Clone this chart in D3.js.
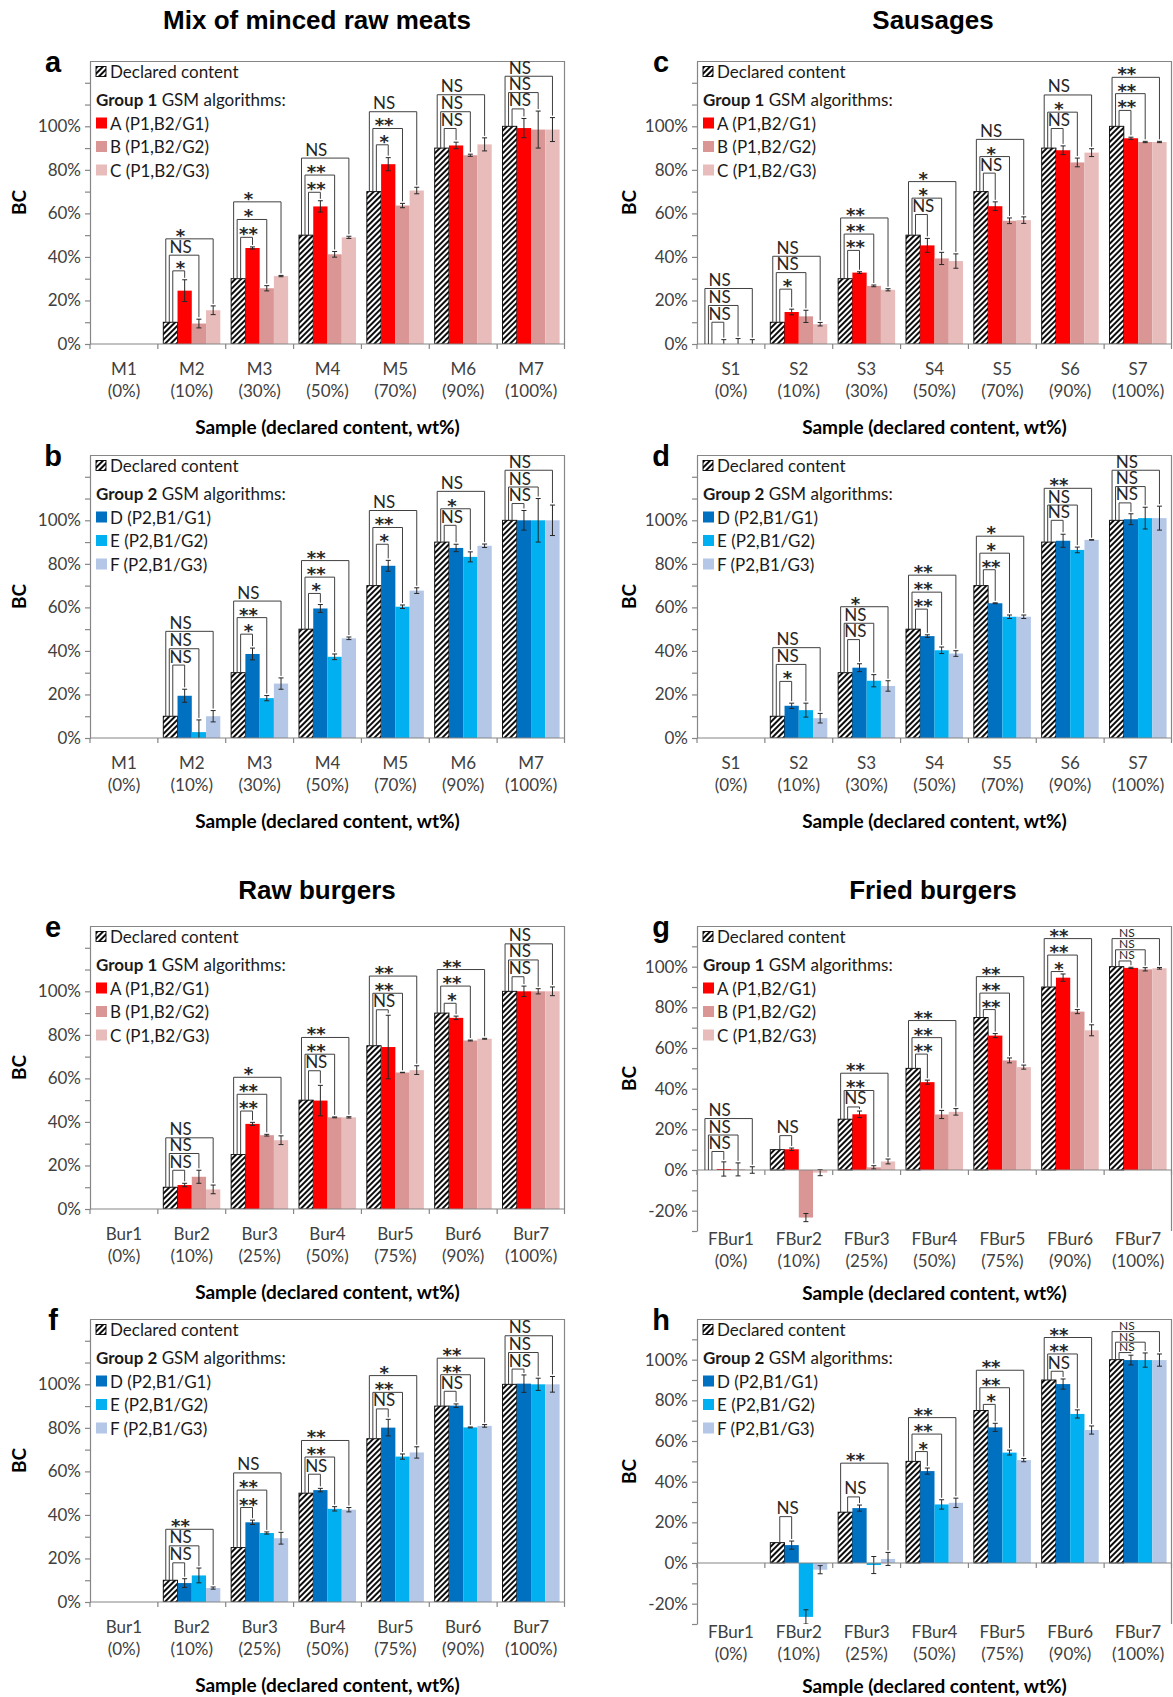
<!DOCTYPE html>
<html>
<head>
<meta charset="utf-8">
<script src="https://cdn.jsdelivr.net/npm/d3@7"></script>
<style>
  body { margin: 0; background: #fff; }
  svg { display: block; }
  text { font-family: Lato, "Open Sans", sans-serif; }
</style>
</head>
<body>
<svg id="chart" width="1173" height="1697"></svg>
<script>
// ---- categories ----
const meatCats = ["M1", "M2", "M3", "M4", "M5", "M6", "M7"];
const meatPct  = ["0%", "10%", "30%", "50%", "70%", "90%", "100%"];
const sausCats = ["S1", "S2", "S3", "S4", "S5", "S6", "S7"];
const sausPct  = ["0%", "10%", "30%", "50%", "70%", "90%", "100%"];
const burCats  = ["Bur1", "Bur2", "Bur3", "Bur4", "Bur5", "Bur6", "Bur7"];
const fburCats = ["FBur1", "FBur2", "FBur3", "FBur4", "FBur5", "FBur6", "FBur7"];
const burPct   = ["0%", "10%", "25%", "50%", "75%", "90%", "100%"];

const group1Keys = ["A (P1,B2/G1)", "B (P1,B2/G2)", "C (P1,B2/G3)"];
const group2Keys = ["D (P2,B1/G1)", "E (P2,B1/G2)", "F (P2,B1/G3)"];

// ---- declared content ----
const declMeat = [null, 10, 30, 50, 70, 90, 100];
const declSaus = [0, 10, 30, 50, 70, 90, 100];
const declSaus2 = [null, 10, 30, 50, 70, 90, 100];
const declBur  = [null, 10, 25, 50, 75, 90, 100];
const declFBur = [0, 10, 25, 50, 75, 90, 100];

// ---- a: minced meats, group 1 ----
const aA  = [null, 24.5, 44.1, 63.2, 82.6, 91.2, 99.2];
const aAe = [null, 5, 0.5, 2.6, 3, 1.5, 4.4];
const aB  = [null, 9.4, 25.6, 41.2, 63.6, 86.7, 98.5];
const aBe = [null, 2, 1.2, 1.3, 1, 0.5, 8.5];
const aC  = [null, 15.5, 31.2, 49, 70.5, 91.7, 98.5];
const aCe = [null, 2, 0.3, 0.5, 1.5, 3, 5.5];
const aSig = [null, ["*", "NS", "*"], ["**", "*", "*"], ["**", "**", "NS"], ["*", "**", "NS"], ["NS", "NS", "NS"], ["NS", "NS", "NS"]];
const aLev = [null, [33.6, 40.8, 48.3], [49, 57.2, 65.3], [69.7, 77.6, 85.4], [91.5, 99, 106.7], [99, 106.7, 114.5], [108, 115.5, 123]];

// ---- b: minced meats, group 2 ----
const bD  = [null, 19.4, 38.6, 59.5, 79.1, 87.3, 100];
const bDe = [null, 3, 2.7, 1.8, 2.5, 1.7, 4.5];
const bE  = [null, 2.7, 18.3, 37.3, 60.3, 83.2, 100];
const bEe = [null, 5.6, 1.2, 1.3, 0.8, 2.3, 10];
const bF  = [null, 10, 25, 45.8, 67.7, 88.3, 100];
const bFe = [null, 2.6, 2.6, 0.6, 1.3, 0.8, 7];
const bSig = [null, ["NS", "NS", "NS"], ["*", "**", "NS"], ["*", "**", "**"], ["*", "**", "NS"], ["NS", "*", "NS"], ["NS", "NS", "NS"]];
const bLev = [null, [33.5, 41, 49], [47.7, 55.3, 62.9], [66.4, 73.9, 81.5], [89, 96.7, 104.5], [97.7, 105.3, 113.3], [107.7, 115.3, 123]];

// ---- c: sausages, group 1 ----
const cA  = [0, 14.7, 32.8, 45.3, 63.3, 89, 94.5];
const cAe = [2, 1.3, 0.4, 3.2, 2, 2, 0.5];
const cB  = [0, 12.7, 26.7, 39.3, 56.6, 83.4, 92.8];
const cBe = [2.5, 2.8, 0.4, 2.8, 1.3, 2, 0.3];
const cC  = [0, 9.1, 24.9, 38.1, 56.9, 87.9, 92.8];
const cCe = [2, 0.8, 0.5, 3.3, 1.5, 1.8, 0.3];
const cSig = [["NS", "NS", "NS"], ["*", "NS", "NS"], ["**", "**", "**"], ["NS", "*", "*"], ["NS", "*", "NS"], ["NS", "*", "NS"], ["**", "**", "**"]];
const cLev = [[10, 17.7, 25.5], [25.2, 32.8, 40.3], [43, 50.5, 57.9], [59.5, 67, 74.6], [78.5, 86.1, 94], [99, 106.5, 114.4], [107.3, 115, 122.5]];

// ---- d: sausages, group 2 ----
const dD  = [null, 14.8, 32.3, 46.8, 61.9, 90.6, 100.5];
const dDe = [null, 1.2, 1.8, 0.6, 0.2, 3, 2.5];
const dE  = [null, 12.8, 26.3, 40.3, 55.7, 86.4, 101];
const dEe = [null, 3.2, 2.8, 1.5, 0.8, 1.3, 5];
const dF  = [null, 9.1, 23.9, 38.8, 55.7, 91, 101];
const dFe = [null, 2.2, 2.4, 1.3, 0.8, 0.1, 5.5];
const dSig = [null, ["*", "NS", "NS"], ["NS", "NS", "*"], ["**", "**", "**"], ["**", "*", "*"], ["NS", "NS", "**"], ["NS", "NS", "NS"]];
const dLev = [null, [26, 33.8, 41.5], [45.2, 52.7, 60.3], [59.2, 67, 74.8], [77.3, 84.9, 92.7], [100, 107, 114.7], [108, 115.5, 123]];

// ---- e: raw burgers, group 1 ----
const eA  = [null, 11, 39.1, 49.8, 74.4, 87.8, 100];
const eAe = [null, 0.8, 0.7, 7, 14.6, 0.8, 2.4];
const eB  = [null, 14.8, 33.9, 42.1, 62.7, 77.4, 100];
const eBe = [null, 3, 0.4, 0.2, 0.1, 0.2, 1.2];
const eC  = [null, 9, 31.6, 42.1, 63.8, 78.2, 100];
const eCe = [null, 2, 2, 0.3, 2, 0.2, 2];
const eSig = [null, ["NS", "NS", "NS"], ["**", "**", "*"], ["NS", "**", "**"], ["NS", "**", "**"], ["*", "**", "**"], ["NS", "NS", "NS"]];
const eLev = [null, [17.8, 25.5, 32.7], [45, 52.7, 60.5], [63.5, 71.1, 78.8], [91.5, 99.1, 107], [94.5, 102.4, 110], [106.7, 114.4, 121.8]];

// ---- f: raw burgers, group 2 ----
const fD  = [null, 8.7, 36.6, 51.4, 80.1, 90.2, 100.3];
const fDe = [null, 2, 1, 0.8, 3.8, 0.8, 4];
const fE  = [null, 12.2, 31.7, 42.8, 66.8, 80.2, 100];
const fEe = [null, 3.4, 0.5, 1, 1.2, 0.2, 2.8];
const fF  = [null, 6.4, 29.3, 42.4, 68.7, 80.9, 100];
const fFe = [null, 0.5, 2.7, 1, 2.6, 0.6, 3.6];
const fSig = [null, ["NS", "NS", "**"], ["**", "**", "NS"], ["NS", "**", "**"], ["NS", "**", "*"], ["NS", "**", "**"], ["NS", "NS", "NS"]];
const fLev = [null, [18, 25.8, 33.4], [43.4, 51.4, 59.3], [58.7, 66.6, 74.2], [88.7, 96.3, 104], [96.8, 104.4, 112], [107, 114.6, 122.3]];

// ---- g: fried burgers, group 1 ----
const gA  = [0.5, 10.2, 27.4, 43.2, 66.1, 94.6, 99.4];
const gAe = [3.5, 0.6, 1.6, 1, 1, 1.8, 0.3];
const gB  = [0.3, -23.4, 1.3, 27.3, 53.9, 77.9, 98.7];
const gBe = [3.2, 2, 0.8, 2, 1.2, 1, 0.8];
const gC  = [0, -1.3, 4.2, 28.6, 50.6, 68.7, 99.2];
const gCe = [1.6, 1.5, 1.2, 1.6, 1, 2.7, 0.4];
const gSig = [["NS", "NS", "NS"], ["NS", null, null], ["NS", "**", "**"], ["**", "**", "**"], ["**", "**", "**"], ["*", "**", "**"], ["NS", "NS", "NS"]];
const gLev = [[9.1, 17.2, 25.3], [16.9, null, null], [31, 39.1, 47.6], [57, 65.1, 73.5], [78.9, 87, 95.1], [97.6, 105.7, 113.8], [102.8, 108.3, 113.8]];

// ---- h: fried burgers, group 2 ----
const hD  = [null, 8.8, 27, 45.2, 66.7, 88, 99.8];
const hDe = [null, 2, 1.5, 1.5, 2, 2.5, 2.4];
const hE  = [null, -26.5, -1, 28.8, 54.3, 73.3, 99.8];
const hEe = [null, 3.5, 4.2, 2.3, 1.2, 2, 3.5];
const hF  = [null, -3.3, 2, 29.6, 50.6, 65.4, 99.8];
const hFe = [null, 2, 3.2, 2.3, 0.8, 2, 3];
const hSig = [null, ["NS", null, null], ["NS", null, "**"], ["*", "**", "**"], ["*", "**", "**"], ["NS", "**", "**"], ["NS", "NS", "NS"]];
const hLev = [null, [22.8, null, null], [32.5, null, 49.1], [54.8, 63.4, 71.5], [78, 86.2, 94.8], [94.3, 102.8, 110.9], [103.5, 108.6, 113.8]];

// ---- styling / layout ----
const colors1 = ["#ff0000", "#d99694", "#e8bcbb"];
const colors2 = ["#0070c0", "#00b0f0", "#b4c7e7"];
const axisCol = "#868686";
const textCol = "#404040";
const colLeft = [90, 697];
const rowTop = [61, 455, 926, 1319];
const plotW = 475;

const panels = [
  { id: "a", col: 0, row: 0, cats: meatCats, pct: meatPct, decl: declMeat, vals: [aA, aB, aC], errs: [aAe, aBe, aCe], sig: aSig, lev: aLev, grp: 1, domain: [0, 130] },
  { id: "b", col: 0, row: 1, cats: meatCats, pct: meatPct, decl: declMeat, vals: [bD, bE, bF], errs: [bDe, bEe, bFe], sig: bSig, lev: bLev, grp: 2, domain: [0, 130] },
  { id: "c", col: 1, row: 0, cats: sausCats, pct: sausPct, decl: declSaus, vals: [cA, cB, cC], errs: [cAe, cBe, cCe], sig: cSig, lev: cLev, grp: 1, domain: [0, 130] },
  { id: "d", col: 1, row: 1, cats: sausCats, pct: sausPct, decl: declSaus2, vals: [dD, dE, dF], errs: [dDe, dEe, dFe], sig: dSig, lev: dLev, grp: 2, domain: [0, 130] },
  { id: "e", col: 0, row: 2, cats: burCats, pct: burPct, decl: declBur, vals: [eA, eB, eC], errs: [eAe, eBe, eCe], sig: eSig, lev: eLev, grp: 1, domain: [0, 130] },
  { id: "f", col: 0, row: 3, cats: burCats, pct: burPct, decl: declBur, vals: [fD, fE, fF], errs: [fDe, fEe, fFe], sig: fSig, lev: fLev, grp: 2, domain: [0, 130] },
  { id: "g", col: 1, row: 2, cats: fburCats, pct: burPct, decl: declFBur, vals: [gA, gB, gC], errs: [gAe, gBe, gCe], sig: gSig, lev: gLev, grp: 1, domain: [-30, 120] },
  { id: "h", col: 1, row: 3, cats: fburCats, pct: burPct, decl: declBur, vals: [hD, hE, hF], errs: [hDe, hEe, hFe], sig: hSig, lev: hLev, grp: 2, domain: [-30, 120] }
];

const titles = [
  { text: "Mix of minced raw meats", col: 0, row: 0 },
  { text: "Sausages", col: 1, row: 0 },
  { text: "Raw burgers", col: 0, row: 2 },
  { text: "Fried burgers", col: 1, row: 2 }
];

const svg = d3.select("#chart");
const defs = svg.append("defs");

const hatch = defs.append("pattern")
    .attr("id", "hatch")
    .attr("patternUnits", "userSpaceOnUse")
    .attr("width", 4)
    .attr("height", 4)
    .attr("patternTransform", "rotate(45)");
hatch.append("rect").attr("width", 4).attr("height", 4).attr("fill", "#fff");
hatch.append("line").attr("x1", 1).attr("y1", 0).attr("x2", 1).attr("y2", 4)
    .attr("stroke", "#000").attr("stroke-width", 1.9);

titles.forEach(t => {
    svg.append("text")
        .attr("x", t.col == 0 ? 317 : 933)
        .attr("y", t.row == 0 ? 20 : 890)
        .attr("text-anchor", "middle")
        .attr("dominant-baseline", "central")
        .style("font-family", "'Liberation Sans', Arial, sans-serif")
        .style("font-weight", "bold")
        .style("font-size", "26px")
        .attr("fill", "#000")
        .text(t.text);
});

function drawPanel(p) {
    const neg = p.domain[0] < 0;
    const height = neg ? 305 : 283;
    const left = colLeft[p.col], top = rowTop[p.row];
    const colors = p.grp == 1 ? colors1 : colors2;
    const keys = p.grp == 1 ? group1Keys : group2Keys;

    const g = svg.append("g").attr("transform", `translate(${left},${top})`);

    const x0 = d3.scaleBand().domain(p.cats).range([0, plotW]);
    const x1 = d3.scaleBand().domain(d3.range(4)).range([0, x0.bandwidth()]).paddingOuter(0.38);
    const y = d3.scaleLinear().domain(p.domain).range([height, 0]);
    const bw = x1.bandwidth();

    const clipId = "clip-" + p.id;
    defs.append("clipPath").attr("id", clipId)
        .append("rect").attr("x", 0).attr("y", 0).attr("width", plotW).attr("height", height);

    // frame (top and right)
    g.append("path")
        .attr("d", `M0,0.5H${plotW - 0.5}V${height}`)
        .attr("fill", "none").attr("stroke", axisCol).attr("stroke-width", 1.2);

    // y axis
    const yAxis = d3.axisLeft(y)
        .tickValues(d3.range(p.domain[0], p.domain[1], 10))
        .tickSize(5)
        .tickSizeOuter(0)
        .tickPadding(4)
        .tickFormat(d => (d % 20 == 0 && d <= 100) ? d + "%" : "");
    const ya = g.append("g").call(yAxis);
    ya.select(".domain").attr("stroke", axisCol).attr("stroke-width", 1.2);
    ya.selectAll(".tick line").attr("stroke", axisCol).attr("stroke-width", 1.2);
    ya.selectAll(".tick text")
        .attr("fill", textCol)
        .style("font-size", "17px")
        .style("font-family", "Lato, sans-serif");

    // bars
    const bars = g.append("g").attr("clip-path", `url(#${clipId})`);
    p.cats.forEach((c, i) => {
        const vals = [p.decl[i], p.vals[0][i], p.vals[1][i], p.vals[2][i]];
        vals.forEach((v, k) => {
            if (v == null) return;
            bars.append("rect")
                .attr("x", x0(c) + x1(k))
                .attr("width", bw)
                .attr("y", y(Math.max(0, v)))
                .attr("height", Math.abs(y(v) - y(0)))
                .attr("fill", k == 0 ? "url(#hatch)" : colors[k - 1])
                .attr("stroke", k == 0 ? "#000" : "none")
                .attr("stroke-width", 0.9);
        });
        // error bars
        for (let k = 0; k < 3; k++) {
            const v = p.vals[k][i], e = p.errs[k][i];
            if (v == null || !e) continue;
            const cx = x0(c) + x1(k + 1) + bw / 2;
            const eb = bars.append("g").attr("stroke", "#262626").attr("stroke-width", 1);
            eb.append("line").attr("x1", cx).attr("x2", cx).attr("y1", y(v - e)).attr("y2", y(v + e));
            eb.append("line").attr("x1", cx - 2.5).attr("x2", cx + 2.5).attr("y1", y(v - e)).attr("y2", y(v - e));
            eb.append("line").attr("x1", cx - 2.5).attr("x2", cx + 2.5).attr("y1", y(v + e)).attr("y2", y(v + e));
        }
    });

    // x axis at zero with category boundary ticks
    g.append("line")
        .attr("x1", 0).attr("x2", plotW).attr("y1", y(0)).attr("y2", y(0))
        .attr("stroke", axisCol).attr("stroke-width", 1.2);
    d3.range(p.cats.length + 1).forEach(i => {
        const xx = Math.min(i * x0.step(), plotW - 0.5);
        g.append("line")
            .attr("x1", xx).attr("x2", xx).attr("y1", y(0)).attr("y2", y(0) + 5)
            .attr("stroke", axisCol).attr("stroke-width", 1.2);
    });

    // significance brackets
    const br = g.append("g").attr("fill", "none").attr("stroke", "#404040").attr("stroke-width", 1);
    const legOff = [9.5, 6, 2.5];
    p.cats.forEach((c, i) => {
        const sig = p.sig[i];
        if (!sig) return;
        const lev = p.lev[i].filter(l => l != null);
        let gap = 99;
        for (let j = 1; j < lev.length; j++) gap = Math.min(gap, y(lev[j - 1]) - y(lev[j]));
        const small = gap < 13;
        const declTop = y(p.decl[i] == null ? 0 : Math.max(0, p.decl[i]));
        for (let k = 0; k < 3; k++) {
            if (sig[k] == null) continue;
            const yl = y(p.lev[i][k]);
            const xl = x0(c) + x1(0) + legOff[k];
            const xr = x0(c) + x1(k + 1) + bw / 2;
            const v = p.vals[k][i] == null ? 0 : p.vals[k][i];
            const e = p.errs[k][i] || 0;
            const yr = y(Math.max(0, v + e)) - 2;
            br.append("path").attr("d", `M${xl},${declTop}V${yl}H${xr}V${yr}`);
            const star = sig[k].indexOf("*") >= 0;
            g.append("text")
                .attr("x", x0(c) + x1(1) + 3)
                .attr("y", small ? yl - 1.5 : (star ? yl + 3 : yl - 2.5))
                .attr("text-anchor", "middle")
                .attr("fill", "#262626")
                .style("font-size", small ? "12px" : (star ? "18px" : "17px"))
                .style("font-weight", star && !small ? "bold" : "normal")
                .style("font-family", star && !small ? "'DejaVu Sans', sans-serif" : "Lato, sans-serif")
                .text(sig[k]);
        }
    });

    // category labels
    const nameY = neg ? height + 7 : y(0) + 24;
    p.cats.forEach((c, i) => {
        const cx = x0(c) + x0.bandwidth() / 2;
        g.append("text").attr("x", cx).attr("y", nameY)
            .attr("text-anchor", "middle").attr("dominant-baseline", "central")
            .attr("fill", textCol).style("font-size", "17px").text(c);
        g.append("text").attr("x", cx).attr("y", nameY + 22)
            .attr("text-anchor", "middle").attr("dominant-baseline", "central")
            .attr("fill", textCol).style("font-size", "17px").text("(" + p.pct[i] + ")");
    });

    // x axis title
    g.append("text")
        .attr("x", plotW / 2)
        .attr("y", neg ? height + 61 : y(0) + 82)
        .attr("text-anchor", "middle").attr("dominant-baseline", "central")
        .attr("fill", "#000")
        .style("font-size", "19px").style("font-weight", "bold")
        .text("Sample (declared content, wt%)");

    // y axis title
    g.append("text")
        .attr("transform", `translate(${p.col == 0 ? -72 : -69},${height / 2}) rotate(-90)`)
        .attr("text-anchor", "middle").attr("dominant-baseline", "central")
        .attr("fill", "#000")
        .style("font-size", "19px").style("font-weight", "bold")
        .text("BC");

    // panel letter
    g.append("text")
        .attr("x", p.col == 0 ? -37 : -36).attr("y", 1)
        .attr("text-anchor", "middle").attr("dominant-baseline", "central")
        .style("font-family", "'Liberation Sans', Arial, sans-serif")
        .style("font-size", "29px").style("font-weight", "bold")
        .attr("fill", "#000")
        .text(p.id);

    // legend
    const lg = g.append("g").attr("transform", "translate(6,0)");
    lg.append("rect").attr("x", 0).attr("y", 5.5).attr("width", 10).attr("height", 10)
        .attr("fill", "url(#hatch)").attr("stroke", "#000").attr("stroke-width", 0.9);
    lg.append("text").attr("x", 14).attr("y", 10.5).attr("dominant-baseline", "central")
        .attr("fill", "#1a1a1a").style("font-size", "17px").text("Declared content");
    const gt = lg.append("text").attr("x", 0).attr("y", 38).attr("dominant-baseline", "central")
        .attr("fill", "#1a1a1a").style("font-size", "17px");
    gt.append("tspan").style("font-weight", "bold").text("Group " + p.grp);
    gt.append("tspan").text(" GSM algorithms:");
    keys.forEach((k, j) => {
        const yy = 62 + j * 23.5;
        lg.append("rect").attr("x", 0).attr("y", yy - 5.5).attr("width", 11).attr("height", 11)
            .attr("fill", colors[j]);
        lg.append("text").attr("x", 14).attr("y", yy).attr("dominant-baseline", "central")
            .attr("fill", "#1a1a1a").style("font-size", "17px").text(k);
    });
}

panels.forEach(drawPanel);
</script>
</body>
</html>
